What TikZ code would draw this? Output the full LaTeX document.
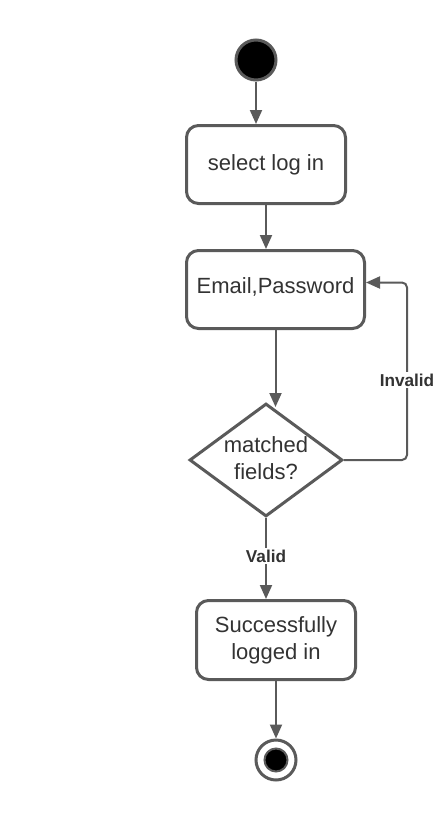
\documentclass[tikz,border=0pt]{standalone}
\usepackage{fontspec}
\setmainfont{Liberation Sans}
\usetikzlibrary{shapes.geometric,arrows.meta,calc}
\definecolor{edge}{HTML}{5A5A5A}
\definecolor{txt}{HTML}{333333}
\tikzset{
  actbox/.style={draw=edge,line width=3pt,rounded corners=12pt,fill=white,inner sep=0pt,
    text=txt,align=center,font=\fontsize{22}{27}\selectfont},
  conn/.style={draw=edge,line width=2pt,-{Triangle[length=14pt,width=12pt]}},
  guard/.style={fill=white,text=txt,inner sep=2pt,font=\bfseries\fontsize{17.2}{20}\selectfont},
}
\begin{document}
\begin{tikzpicture}[x=1pt,y=-1pt]
\path[use as bounding box,fill=white] (0,0) rectangle (444,825);
\node[circle,fill=black,draw=edge,line width=3pt,minimum size=40pt,inner sep=0pt] (start) at (256,60) {};
\node[actbox,minimum width=159pt,minimum height=78pt] (sel) at (266,164.5) {select log in};
\node[actbox,minimum width=178pt,minimum height=78pt] (em) at (275.5,289.5) {};
\node[text=txt,font=\fontsize{22}{27}\selectfont,inner sep=0pt] (emt) at (275.5,287) {Email,Password};
\node[diamond,draw=edge,line width=3pt,fill=white,minimum width=153pt,minimum height=113pt,inner sep=0pt] (dec) at (266,460) {};
\node[text=txt,align=center,font=\fontsize{22}{27}\selectfont,inner sep=0pt] (dect) at (266,458) {matched\\fields?};
\node[actbox,minimum width=159pt,minimum height=79pt] (ok) at (276,640) {Successfully\\logged in};
\node[circle,fill=white,draw=edge,line width=3pt,minimum size=40pt,inner sep=0pt] (fin) at (276,760) {};
\node[circle,fill=black,draw=edge,line width=2pt,minimum size=23pt,inner sep=0pt] (finin) at (276,760) {};

\draw[conn] (start.south) -- (start.south |- sel.north);
\draw[conn] (sel.south) -- (sel.south |- em.north);
\draw[conn] (em.south) -- ($(em.south |- dec.north)+(0,5)$);
\draw[conn,rounded corners=5pt] (dec.east) -- ($(dec.east)+(63,0)$) |- ($(em.east)+(0,-7)$);
\draw[conn] (dec.south) -- (dec.south |- ok.north);
\draw[conn] (ok.south) -- (fin.north);
\node[guard] (inv) at (407,380) {Invalid};
\node[guard] (val) at (266,556) {Valid};
\end{tikzpicture}
\end{document}
